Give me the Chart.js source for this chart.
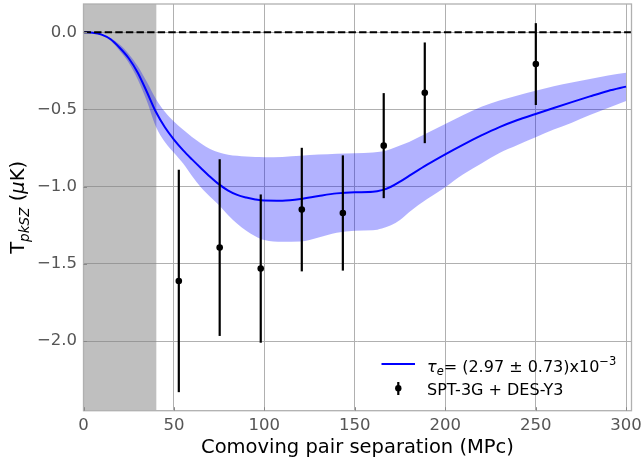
<!DOCTYPE html>
<html>
<head>
<meta charset="utf-8">
<script src="https://cdn.jsdelivr.net/npm/chart.js@4.4.1/dist/chart.umd.min.js"></script>
<style>
  html, body { margin: 0; padding: 0; background: #fff; }
</style>
</head>
<body>
<canvas id="myChart" width="642" height="466"></canvas>
<script>
// pair separation grid (MPc) for the model curve and its band
var sepGrid = [0, 5, 10, 15, 20, 25, 30, 35, 40, 45, 50, 55, 60, 65, 70, 75, 80, 85, 90, 95, 100, 110, 120, 130, 140, 150, 160, 165, 170, 175, 180, 190, 200, 210, 220, 230, 240, 250, 260, 270, 280, 290, 300];
var modelT = [0, -0.003, -0.015, -0.045, -0.10, -0.168, -0.262, -0.385, -0.515, -0.615, -0.695, -0.763, -0.823, -0.88, -0.935, -0.985, -1.025, -1.053, -1.07, -1.082, -1.089, -1.09, -1.08, -1.06, -1.043, -1.036, -1.033, -1.022, -1.0, -0.967, -0.93, -0.857, -0.79, -0.727, -0.668, -0.614, -0.568, -0.529, -0.49, -0.452, -0.415, -0.38, -0.352];
var bandHigh = [0, -0.002, -0.011, -0.037, -0.08, -0.14, -0.22, -0.32, -0.43, -0.515, -0.578, -0.63, -0.678, -0.72, -0.755, -0.778, -0.793, -0.8, -0.805, -0.808, -0.809, -0.807, -0.8, -0.792, -0.786, -0.783, -0.778, -0.772, -0.755, -0.733, -0.71, -0.652, -0.594, -0.535, -0.482, -0.442, -0.41, -0.379, -0.35, -0.325, -0.302, -0.28, -0.262];
var bandLow = [0, -0.004, -0.019, -0.055, -0.12, -0.197, -0.305, -0.445, -0.61, -0.71, -0.78, -0.848, -0.93, -1.005, -1.065, -1.12, -1.185, -1.24, -1.285, -1.32, -1.345, -1.357, -1.355, -1.328, -1.298, -1.285, -1.282, -1.27, -1.25, -1.215, -1.165, -1.08, -1.003, -0.92, -0.85, -0.782, -0.73, -0.68, -0.63, -0.585, -0.535, -0.49, -0.445];

// SPT-3G + DES-Y3 measurements
var pointSep = [52.7, 75.3, 98.0, 120.7, 143.4, 166.0, 188.7, 250.1];
var pointT = [-1.61, -1.394, -1.53, -1.148, -1.17, -0.734, -0.392, -0.206];
var pointErr = [0.72, 0.572, 0.48, 0.40, 0.373, 0.34, 0.326, 0.265];

// masked region (small separations)
var maskSep = [0, 40.4];

var xTicks = [0, 50, 100, 150, 200, 250, 300];
var yTicks = [-2.0, -1.5, -1.0, -0.5, 0.0];
var xMin = 0, xMax = 303;
var yMin = -2.45, yMax = 0.183;

var FONT = 'DejaVu Sans';

function toXY(xs, ys) {
    return xs.map(function (x, i) { return { x: x, y: ys[i] }; });
}

// Text with sub/superscripts, drawn piece by piece
function drawRich(ctx, parts, x, y) {
    parts.forEach(function (p) {
        ctx.font = p.f;
        ctx.fillText(p.t, x, y + (p.dy || 0));
        x += ctx.measureText(p.t).width;
    });
}
function richWidth(ctx, parts) {
    var w = 0;
    parts.forEach(function (p) { ctx.font = p.f; w += ctx.measureText(p.t).width; });
    return w;
}

// Error bars for the data points
var errorBars = {
    id: 'errorBars',
    beforeDatasetDraw: function (chart, args) {
        if (args.index !== 0) return;
        var xs = chart.scales.x, ys = chart.scales.y, ctx = chart.ctx;
        ctx.save();
        ctx.strokeStyle = '#000';
        ctx.lineWidth = 2.2;
        pointSep.forEach(function (s, i) {
            var px = xs.getPixelForValue(s);
            ctx.beginPath();
            ctx.moveTo(px, ys.getPixelForValue(pointT[i] + pointErr[i]));
            ctx.lineTo(px, ys.getPixelForValue(pointT[i] - pointErr[i]));
            ctx.stroke();
        });
        ctx.restore();
    }
};

// Axes frame, inward ticks, legend and y title
var decorations = {
    id: 'decorations',
    afterDraw: function (chart) {
        var ctx = chart.ctx, ca = chart.chartArea;
        var xs = chart.scales.x, ys = chart.scales.y;
        ctx.save();
        ctx.strokeStyle = '#b0b0b0';
        ctx.lineWidth = 1.3;
        ctx.strokeRect(ca.left, ca.top, ca.right - ca.left, ca.bottom - ca.top);
        ctx.strokeStyle = '#888';
        ctx.lineWidth = 1;
        xTicks.forEach(function (v) {
            var px = Math.round(xs.getPixelForValue(v)) + 0.5;
            ctx.beginPath(); ctx.moveTo(px, ca.bottom); ctx.lineTo(px, ca.bottom - 3.5); ctx.stroke();
        });
        yTicks.forEach(function (v) {
            var py = Math.round(ys.getPixelForValue(v)) + 0.5;
            ctx.beginPath(); ctx.moveTo(ca.left, py); ctx.lineTo(ca.left + 3.5, py); ctx.stroke();
        });

        // legend (no frame)
        ctx.fillStyle = '#000';
        ctx.textBaseline = 'alphabetic';
        ctx.textAlign = 'left';
        var lx = ca.right - 250, tx = ca.right - 204.5;
        ctx.strokeStyle = '#0000ff';
        ctx.lineWidth = 2;
        ctx.beginPath(); ctx.moveTo(lx, ca.bottom - 46.7); ctx.lineTo(lx + 33.5, ca.bottom - 46.7); ctx.stroke();
        drawRich(ctx, [
            { t: 'τ', f: 'italic 16px ' + FONT },
            { t: 'e', f: 'italic 11.5px ' + FONT, dy: 3.5 },
            { t: '= (2.97 ± 0.73)x10', f: '16px ' + FONT },
            { t: '−3', f: '11.5px ' + FONT, dy: -7 }
        ], tx, ca.bottom - 39.2);
        var mx = lx + 16.8;
        ctx.strokeStyle = '#000';
        ctx.lineWidth = 2.2;
        ctx.beginPath(); ctx.moveTo(mx, ca.bottom - 28.7); ctx.lineTo(mx, ca.bottom - 15.7); ctx.stroke();
        ctx.beginPath(); ctx.arc(mx, ca.bottom - 22.4, 3.2, 0, Math.PI * 2); ctx.fill();
        ctx.font = '16px ' + FONT;
        ctx.fillText('SPT-3G + DES-Y3', tx, ca.bottom - 15.7);

        // y axis title
        var parts = [
            { t: 'T', f: '19.5px ' + FONT },
            { t: 'pkSZ', f: 'italic 13.6px ' + FONT, dy: 4.5 },
            { t: ' (', f: '19.5px ' + FONT },
            { t: 'μ', f: 'italic 19.5px ' + FONT },
            { t: 'K)', f: '19.5px ' + FONT }
        ];
        var w = richWidth(ctx, parts);
        ctx.translate(24, (ca.top + ca.bottom) / 2);
        ctx.rotate(-Math.PI / 2);
        drawRich(ctx, parts, -w / 2, 0);
        ctx.restore();
    }
};

var ctx = document.getElementById('myChart').getContext('2d');
var myChart = new Chart(ctx, {
    type: 'line',
    data: {
        datasets: [{
            label: 'SPT-3G + DES-Y3',
            data: toXY(pointSep, pointT),
            showLine: false,
            pointRadius: 3.3,
            pointBackgroundColor: '#000',
            pointBorderWidth: 0,
            order: 0
        }, {
            label: 'zero',
            data: toXY([xMin, xMax], [0, 0]),
            borderColor: '#000',
            borderWidth: 2,
            borderDash: [7.4, 3.2],
            pointRadius: 0,
            order: 1
        }, {
            label: 'model',
            data: toXY(sepGrid, modelT),
            borderColor: '#0000ff',
            borderWidth: 2,
            pointRadius: 0,
            cubicInterpolationMode: 'monotone',
            order: 2
        }, {
            label: 'band high',
            data: toXY(sepGrid, bandHigh),
            borderColor: 'rgba(0,0,0,0)',
            backgroundColor: 'rgba(0,0,255,0.3)',
            fill: '+1',
            pointRadius: 0,
            cubicInterpolationMode: 'monotone',
            order: 3
        }, {
            label: 'band low',
            data: toXY(sepGrid, bandLow),
            borderColor: 'rgba(0,0,0,0)',
            pointRadius: 0,
            cubicInterpolationMode: 'monotone',
            order: 4
        }, {
            label: 'mask',
            data: toXY(maskSep, [yMax, yMax]),
            borderColor: 'rgba(0,0,0,0)',
            backgroundColor: 'rgba(128,128,128,0.5)',
            fill: 'start',
            pointRadius: 0,
            order: 5
        }]
    },
    options: {
        responsive: false,
        animation: false,
        layout: { padding: { top: 3, right: 10.5, left: 0, bottom: 0 } },
        plugins: {
            legend: { display: false },
            tooltip: { enabled: false }
        },
        scales: {
            x: {
                type: 'linear',
                min: xMin,
                max: xMax,
                afterBuildTicks: function (s) { s.ticks = xTicks.map(function (v) { return { value: v }; }); },
                afterFit: function (s) { s.height = 55.3; s.paddingLeft = 0; s.paddingRight = 0; },
                grid: { color: '#b0b0b0', lineWidth: 1, drawTicks: false },
                border: { display: false },
                ticks: {
                    color: '#555',
                    font: { family: FONT, size: 16.5 },
                    padding: 5,
                    maxRotation: 0,
                    autoSkip: false,
                    callback: function (v) { return String(v); }
                },
                title: {
                    display: true,
                    text: 'Comoving pair separation (MPc)',
                    color: '#000',
                    font: { family: FONT, size: 19.5 },
                    padding: { top: 0, bottom: 6 }
                }
            },
            y: {
                type: 'linear',
                min: yMin,
                max: yMax,
                afterBuildTicks: function (s) { s.ticks = yTicks.map(function (v) { return { value: v }; }); },
                afterFit: function (s) { s.width = 83.5; s.paddingTop = 0; s.paddingBottom = 0; },
                grid: { color: '#b0b0b0', lineWidth: 1, drawTicks: false },
                border: { display: false },
                ticks: {
                    color: '#555',
                    font: { family: FONT, size: 16.5 },
                    padding: 6.5,
                    callback: function (v) { return (v < 0 ? '\u2212' : '') + Math.abs(v).toFixed(1); }
                }
            }
        }
    },
    plugins: [errorBars, decorations]
});
</script>
</body>
</html>
